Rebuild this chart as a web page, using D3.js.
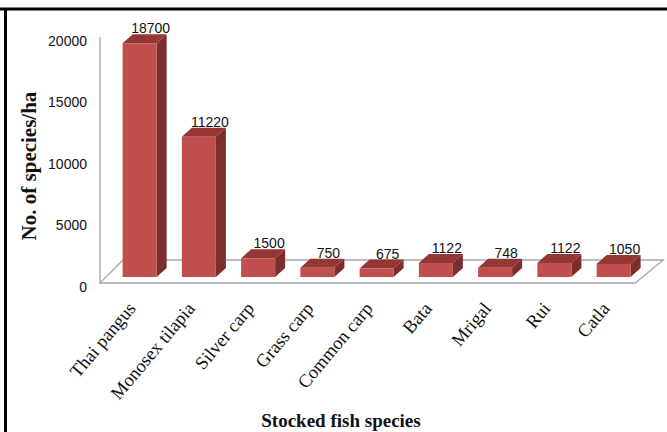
<!DOCTYPE html>
<html>
<head>
<meta charset="utf-8">
<script src="https://cdn.jsdelivr.net/npm/d3@7"></script>
<style>
  html, body { margin: 0; padding: 0; background: #fff; }
  svg { display: block; }
</style>
</head>
<body>
<svg id="chart" width="667" height="432"></svg>
<script>
// Stocking density per fish species (number per hectare)
const species = ["Thai pangus", "Monosex tilapia", "Silver carp", "Grass carp",
                 "Common carp", "Bata", "Mrigal", "Rui", "Catla"];
const stocked = [18700, 11220, 1500, 750, 675, 1122, 748, 1122, 1050];
const yTicks = [0, 5000, 10000, 15000, 20000];

const svg = d3.select("#chart");
const W = 667, H = 432;

// pseudo-3D depth of each column and of the floor
const depth = { dx: 10, dy: 9 };
const floorDepth = { dx: 23, dy: 23 };

const colors = { front: "#c0504d", side: "#7b2e2c", top: "#933634" };

// horizontal placement of the columns
const x = d3.scaleBand()
  .domain(species)
  .range([110, 110 + 9 * 59.25])
  .paddingInner(0.426)
  .paddingOuter(0.213);

// column heights (front face) and the axis labelling plane
const yBar = d3.scaleLinear().domain([0, 20000]).range([277, 27]);
const yAxis = d3.scaleLinear().domain([0, 20000]).range([287, 41]);

// outer frame
svg.append("line").attr("x1", 0).attr("x2", W).attr("y1", 9).attr("y2", 9)
  .attr("stroke", "#000").attr("stroke-width", 3);
svg.append("line").attr("x1", 5.5).attr("x2", 5.5).attr("y1", 8).attr("y2", H)
  .attr("stroke", "#000").attr("stroke-width", 3);

// floor and value axis
const axisX = 100;
const floorFront = 283;
const floorRight = x.range()[1] - 8;
const gridColor = "#a6a6a6";
svg.append("path")
  .attr("d", `M${axisX},${floorFront} L${floorRight},${floorFront}
              L${floorRight + floorDepth.dx + 5},${floorFront - floorDepth.dy}
              L${axisX + floorDepth.dx},${floorFront - floorDepth.dy} Z`)
  .attr("fill", "none").attr("stroke", gridColor).attr("stroke-width", 1.3);
svg.append("line")
  .attr("x1", axisX).attr("x2", axisX)
  .attr("y1", yAxis(20000) - 4).attr("y2", floorFront)
  .attr("stroke", gridColor).attr("stroke-width", 1.3);

// tick labels
const axis = d3.axisLeft(yAxis).tickValues(yTicks).tickSize(0).tickPadding(0)
  .tickFormat(d3.format("d"));
const gAxis = svg.append("g").attr("transform", `translate(87,0)`).call(axis);
gAxis.select(".domain").remove();
gAxis.selectAll("text")
  .attr("font-family", "'Liberation Sans', Arial, sans-serif")
  .attr("font-size", 14).attr("fill", "#111");

// columns
const bars = svg.append("g").selectAll("g").data(species).join("g");
bars.each(function (s, i) {
  const g = d3.select(this);
  const v = stocked[i];
  const x0 = x(s), x1 = x(s) + x.bandwidth();
  const y0 = yBar(0), y1 = yBar(v);
  // side face
  g.append("path")
    .attr("d", `M${x1},${y1} L${x1 + depth.dx},${y1 - depth.dy} L${x1 + depth.dx},${y0 - depth.dy} L${x1},${y0} Z`)
    .attr("fill", colors.side);
  // top face
  g.append("path")
    .attr("d", `M${x0},${y1} L${x0 + depth.dx},${y1 - depth.dy} L${x1 + depth.dx},${y1 - depth.dy} L${x1},${y1} Z`)
    .attr("fill", colors.top);
  // front face
  g.append("rect")
    .attr("x", x0).attr("y", y1).attr("width", x1 - x0).attr("height", y0 - y1)
    .attr("fill", colors.front);
  // value label
  g.append("text")
    .attr("x", x0 + x.bandwidth() / 2 + 11)
    .attr("y", y1 - depth.dy - 1)
    .attr("text-anchor", "middle")
    .attr("font-family", "'Liberation Sans', Arial, sans-serif")
    .attr("font-size", 14).attr("fill", "#111")
    .text(v);
});

// category labels
svg.append("g").selectAll("text").data(species).join("text")
  .attr("transform", d => `translate(${x(d) + x.bandwidth() / 2 - 3},309) rotate(-50)`)
  .attr("text-anchor", "end")
  .attr("font-family", "'Liberation Serif', 'Times New Roman', serif")
  .attr("font-size", 18.5).attr("fill", "#111")
  .text(d => d);

// axis titles
svg.append("text")
  .attr("transform", "translate(36,166) rotate(-90)")
  .attr("text-anchor", "middle")
  .attr("font-family", "'Liberation Serif', 'Times New Roman', serif")
  .attr("font-weight", "bold").attr("font-size", 21).attr("fill", "#111")
  .text("No. of species/ha");

svg.append("text")
  .attr("x", 341).attr("y", 427)
  .attr("text-anchor", "middle")
  .attr("font-family", "'Liberation Serif', 'Times New Roman', serif")
  .attr("font-weight", "bold").attr("font-size", 19).attr("fill", "#111")
  .text("Stocked fish species");
</script>
</body>
</html>
